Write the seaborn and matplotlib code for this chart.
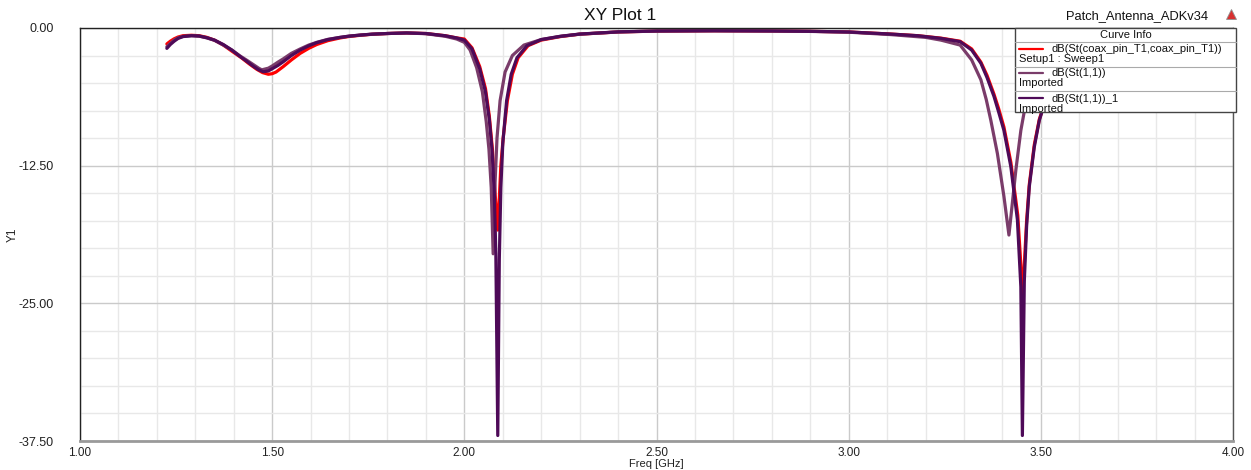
import numpy as np
import pandas as pd
import matplotlib
matplotlib.use("Agg")
import matplotlib.pyplot as plt
from matplotlib.ticker import MultipleLocator, FixedLocator
from matplotlib.lines import Line2D
from matplotlib.patches import Rectangle
import seaborn as sns

# ---------------- data ----------------
red_freq = [1.226, 1.235, 1.245, 1.255, 1.268, 1.29, 1.31, 1.33, 1.35, 1.373, 1.395, 1.42, 1.44, 1.46, 1.475,
            1.49, 1.50, 1.51, 1.529, 1.55, 1.573, 1.595, 1.616, 1.645, 1.677, 1.70, 1.73, 1.76,
            1.80, 1.85, 1.90, 1.95, 1.98, 2.000, 2.020, 2.040, 2.055, 2.065, 2.073, 2.079, 2.084, 2.087,
            2.091, 2.095, 2.101, 2.112, 2.125, 2.140, 2.166, 2.20, 2.25, 2.30, 2.40, 2.50, 2.65, 2.80,
            2.90, 3.00, 3.11, 3.18, 3.24, 3.29, 3.32, 3.344, 3.36, 3.378, 3.39, 3.404, 3.422, 3.440,
            3.448, 3.452, 3.457, 3.463, 3.470, 3.483, 3.496, 3.51, 3.53, 3.56, 3.60]
red_db = [-1.45, -1.2, -0.98, -0.82, -0.7, -0.66, -0.7, -0.85, -1.1, -1.55, -2.1, -2.7, -3.25, -3.75, -4.05,
          -4.2, -4.15, -4.0, -3.5, -2.9, -2.3, -1.85, -1.5, -1.15, -0.9, -0.77, -0.66, -0.57,
          -0.5, -0.45, -0.5, -0.7, -0.9, -1.0, -1.8, -3.5, -5.5, -8.0, -11.0, -14.5, -17.0, -18.35,
          -15.5, -12.5, -10.0, -6.6, -4.2, -2.7, -1.6, -1.1, -0.78, -0.56, -0.36, -0.28, -0.25, -0.27,
          -0.3, -0.36, -0.55, -0.7, -0.92, -1.2, -1.9, -3.1, -4.3, -6.0, -7.3, -9.0, -12.2, -17.0,
          -21.5, -25.2, -21.5, -17.5, -14.2, -10.6, -8.3, -6.8, -5.2, -3.8, -2.8]

mauve_freq = [1.226, 1.235, 1.245, 1.255, 1.268, 1.29, 1.31, 1.33, 1.35, 1.373, 1.395, 1.417, 1.435, 1.45,
              1.465, 1.473, 1.49, 1.50, 1.515, 1.529, 1.55, 1.573, 1.595, 1.616, 1.645, 1.677, 1.70,
              1.73, 1.76, 1.80, 1.85, 1.90, 1.95, 1.98, 2.000, 2.015, 2.032, 2.047, 2.057, 2.064, 2.070, 2.075,
              2.080, 2.085, 2.093, 2.106, 2.125, 2.155, 2.20, 2.25, 2.30, 2.40, 2.50, 2.65, 2.80, 2.90,
              3.00, 3.11, 3.20, 3.24, 3.29, 3.32, 3.344, 3.358, 3.370, 3.387, 3.404, 3.417, 3.428,
              3.435, 3.448, 3.461, 3.48, 3.51, 3.55, 3.60]
mauve_db = [-1.7, -1.4, -1.1, -0.9, -0.76, -0.7, -0.74, -0.9, -1.12, -1.55, -2.0, -2.55, -2.95, -3.3,
            -3.65, -3.8, -3.65, -3.45, -3.1, -2.8, -2.3, -1.9, -1.55, -1.3, -1.03, -0.85, -0.74,
            -0.64, -0.56, -0.5, -0.45, -0.52, -0.75, -1.0, -1.3, -2.0, -3.6, -5.8, -8.5, -11.0, -14.5, -20.5,
            -14.0, -10.0, -6.6, -4.0, -2.5, -1.55, -1.05, -0.76, -0.56, -0.36, -0.28, -0.25, -0.27, -0.31,
            -0.38, -0.6, -0.85, -1.1, -1.55, -2.9, -4.7, -6.5, -8.4, -11.4, -15.3, -18.8, -15.2,
            -12.9, -9.3, -6.8, -4.8, -3.2, -2.3, -1.8]

purple_freq = [1.226, 1.235, 1.245, 1.255, 1.268, 1.29, 1.31, 1.33, 1.35, 1.373, 1.395, 1.417, 1.435, 1.45,
               1.465, 1.477, 1.49, 1.50, 1.515, 1.529, 1.55, 1.573, 1.595, 1.616, 1.645, 1.677, 1.70,
               1.73, 1.76, 1.80, 1.85, 1.90, 1.95, 1.98, 2.000, 2.020, 2.040, 2.055, 2.065, 2.072, 2.078, 2.082,
               2.087, 2.091, 2.095, 2.100, 2.110, 2.122, 2.137, 2.163, 2.200, 2.25, 2.30, 2.40, 2.50, 2.65,
               2.80, 2.90, 3.00, 3.11, 3.18, 3.24, 3.29, 3.32, 3.344, 3.36, 3.378, 3.39, 3.404, 3.422,
               3.439, 3.448, 3.452, 3.457, 3.463, 3.470, 3.483, 3.496, 3.51, 3.53, 3.56, 3.60]
purple_db = [-1.85, -1.5, -1.2, -0.95, -0.78, -0.7, -0.73, -0.88, -1.1, -1.5, -2.0, -2.6, -3.05, -3.45,
             -3.8, -3.97, -3.9, -3.7, -3.4, -3.06, -2.5, -2.0, -1.62, -1.33, -1.05, -0.85, -0.74,
             -0.64, -0.56, -0.5, -0.45, -0.5, -0.7, -0.9, -1.1, -1.9, -3.7, -5.8, -8.3, -11.0, -15.0, -20.5,
             -37.0, -21.0, -14.5, -10.5, -6.6, -4.2, -2.7, -1.6, -1.05, -0.75, -0.55, -0.35, -0.27, -0.25,
             -0.27, -0.3, -0.36, -0.55, -0.7, -0.94, -1.24, -2.0, -3.2, -4.5, -6.2, -7.6, -9.3, -12.6,
             -17.4, -23.5, -37.0, -23.0, -18.0, -14.4, -10.8, -8.4, -6.8, -5.2, -3.8, -2.8]

series_names = ["dB(St(coax_pin_T1,coax_pin_T1))", "dB(St(1,1))", "dB(St(1,1))_1"]
series_sub = ["Setup1 : Sweep1", "Imported", "Imported"]
series_colors = ["#ff0000", "#7a3c6a", "#4e0a58"]

x_ticks = [1.00, 1.50, 2.00, 2.50, 3.00, 3.50, 4.00]
y_ticks = [0.00, -12.50, -25.00, -37.50]

df = pd.concat([
    pd.DataFrame({"freq": red_freq, "db": red_db, "curve": series_names[0]}),
    pd.DataFrame({"freq": mauve_freq, "db": mauve_db, "curve": series_names[1]}),
    pd.DataFrame({"freq": purple_freq, "db": purple_db, "curve": series_names[2]}),
], ignore_index=True)

# ---------------- figure ----------------
sns.set_style("white")
plt.rcParams["font.family"] = ["Liberation Sans", "DejaVu Sans"]

W, H = 1251, 470
fig = plt.figure(figsize=(W / 100, H / 100), dpi=100)
L, R, T, B = 80, 1233, 28, 441
ax = fig.add_axes([L / W, 1 - B / H, (R - L) / W, (B - T) / H])

sns.lineplot(data=df, x="freq", y="db", hue="curve", hue_order=series_names,
             palette=dict(zip(series_names, series_colors)), estimator=None,
             linewidth=2.3, legend=False, ax=ax)

ax.set_xlim(1.0, 4.0)
ax.set_ylim(-37.5, 0.0)
ax.xaxis.set_major_locator(FixedLocator(x_ticks))
ax.yaxis.set_major_locator(FixedLocator(y_ticks))
ax.xaxis.set_minor_locator(MultipleLocator(0.1))
ax.yaxis.set_minor_locator(MultipleLocator(2.5))
ax.set_xticklabels([f"{v:.2f}" for v in x_ticks])
ax.set_yticklabels([f"{v:.2f}" for v in y_ticks])

ax.grid(which="major", color="#cacaca", linewidth=1.0)
ax.grid(which="minor", color="#e8e8e8", linewidth=1.0)
ax.set_axisbelow(True)

ax.tick_params(axis="y", which="major", direction="out", length=13, width=0.8, labelsize=9, pad=6,
               color="#333333", labelcolor="#222222")
ax.tick_params(axis="y", which="minor", direction="out", length=7, width=0.8, color="#333333")
ax.tick_params(axis="x", which="major", direction="out", length=3, width=0.8, labelsize=8.5, pad=1,
               color="#333333", labelcolor="#222222")
ax.tick_params(axis="x", which="minor", direction="out", length=2.5, width=0.8, color="#555555")

for side in ["top", "left"]:
    ax.spines[side].set_color("#222222")
    ax.spines[side].set_linewidth(1.0)
ax.spines["right"].set_color("#555555")
ax.spines["right"].set_linewidth(1.0)
ax.spines["bottom"].set_color("#9a9a9a")
ax.spines["bottom"].set_linewidth(2.0)

ax.set_xlabel("")
ax.set_ylabel("")
fig.text(656 / W, 1 - 464 / H, "Freq [GHz]", fontsize=8, ha="center", va="center", color="#222222")
fig.text(13 / W, 1 - 235 / H, "Y1", fontsize=8.5, ha="center", va="center", rotation=90, color="#222222")

fig.text(620 / W, 1 - 15 / H, "XY Plot 1", fontsize=12.5, ha="center", va="center", color="#111111")
fig.text(1137 / W, 1 - 16 / H, "Patch_Antenna_ADKv34", fontsize=9.3, ha="center", va="center", color="#111111")
fig.lines.append(Line2D([1231 / W], [1 - 14 / H], marker="^", markersize=7, color="#d83030",
                        markeredgecolor="#909090", markeredgewidth=0.6, transform=fig.transFigure,
                        linestyle="none"))


# ---------------- legend box (Curve Info) ----------------
def fx(x):
    return x / W


def fy(y):
    return 1 - y / H


lx0, lx1, ly0, ly1 = 1015, 1236, 28, 112
fig.patches.append(Rectangle((fx(lx0), fy(ly1)), fx(lx1) - fx(lx0), fy(ly0) - fy(ly1),
                             transform=fig.transFigure, facecolor="white", edgecolor="#444444",
                             linewidth=1.0, zorder=10))
fig.text(fx((lx0 + lx1) / 2), fy(35), "Curve Info", fontsize=8, ha="center", va="center",
         color="#111111", zorder=11)
for sy in [42, 67, 91]:
    fig.lines.append(Line2D([fx(lx0), fx(lx1)], [fy(sy), fy(sy)], transform=fig.transFigure,
                            color="#aaaaaa", linewidth=0.8, zorder=11))
row_y = [49, 73, 98]
for name, sub, col, yy in zip(series_names, series_sub, series_colors, row_y):
    fig.lines.append(Line2D([fx(1019), fx(1043)], [fy(yy), fy(yy)], transform=fig.transFigure,
                            color=col, linewidth=1.6, zorder=11))
    fig.text(fx(1052), fy(yy + 0.5), name, fontsize=8, ha="left", va="center", color="#111111", zorder=11)
    fig.text(fx(1019), fy(yy + 10.5), sub, fontsize=8, ha="left", va="center", color="#111111", zorder=11)

fig.savefig("out.png", dpi=100)
